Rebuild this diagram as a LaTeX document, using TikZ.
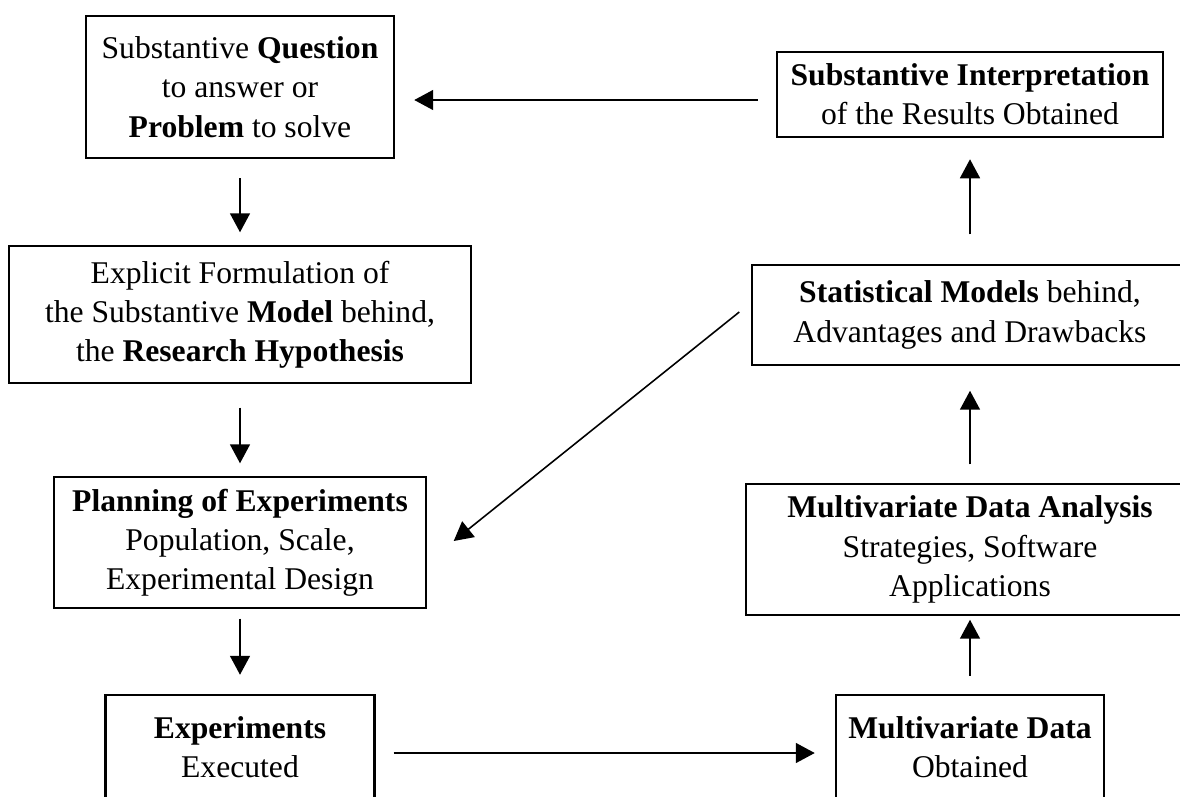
\documentclass[tikz,border=0pt]{standalone}
\usepackage{fontspec}
\setmainfont{Liberation Serif}
\usepackage{tikz}
\usetikzlibrary{arrows.meta}

\tikzset{
  box/.style={draw, line width=0.85pt, inner sep=0pt, align=center,
    font=\fontsize{18}{22.3}\selectfont},
  thickbox/.style={box, line width=1.45pt},
  flow/.style={line width=0.9pt, -{Triangle[length=3.8mm,width=4mm]}}
}

\begin{document}
\begin{tikzpicture}[x=0.02cm, y=-0.02cm]
\useasboundingbox (0,0) rectangle (1180,796);
\clip (0,0) rectangle (1180,796);

\draw (240,87) node[thickbox, minimum width=6.16cm, minimum height=2.84cm] (question)
  {Substantive \textbf{Question}\\ to answer or\\ \textbf{Problem} to solve} ;

\draw (970,94.5) node[thickbox, minimum width=7.72cm, minimum height=1.70cm] (interp)
  {\textbf{Substantive Interpretation}\\ of the Results Obtained} ;
\draw[flow, shorten <=0.36cm, shorten >=0.38cm] ([shift={(0,5.5)}]interp.west) to ([shift={(0,5.5)}]interp.west -| question.east) ;

\draw (240,314.5) node[box, minimum width=9.24cm, minimum height=2.74cm] (formul)
  {Explicit Formulation of\\ the Substantive \textbf{Model} behind,\\ the \textbf{Research Hypothesis}} ;
\draw[flow, shorten <=0.38cm, shorten >=0.26cm] (question.south) to (formul.north) ;

\draw (970,315) node[box, minimum width=8.72cm, minimum height=2.00cm] (stat)
  {\textbf{Statistical Models} behind,\\ Advantages and Drawbacks} ;
\draw[flow, shorten <=0.6cm, shorten >=0.42cm] (stat.north) to (interp.south) ;

\draw (240,542.5) node[box, minimum width=7.44cm, minimum height=2.62cm] (plan)
  {\textbf{Planning of Experiments}\\ Population, Scale,\\ Experimental Design} ;
\draw[flow, shorten <=0.48cm, shorten >=0.26cm] (formul.south) to (plan.north) ;
\draw[flow] ([shift={(-12,-3)}]stat.west) to ([shift={(27,-1.5)}]plan.east) ;

\draw (970,549.5) node[box, minimum width=8.96cm, minimum height=2.62cm] (analysis)
  {\textbf{Multivariate Data Analysis}\\ Strategies, Software\\ Applications} ;
\draw[flow, shorten <=0.38cm, shorten >=0.5cm] (analysis.north) to (stat.south) ;

\draw (240,747.5) node[thickbox, minimum width=5.38cm, minimum height=2.10cm] (exper)
  {\textbf{Experiments}\\ Executed} ;
\draw[flow, shorten <=0.2cm, shorten >=0.38cm] (plan.south) to (exper.north) ;

\draw (970,747.5) node[thickbox, minimum width=5.36cm, minimum height=2.10cm] (data)
  {\textbf{Multivariate Data}\\ Obtained} ;
\draw[flow, shorten <=0.36cm, shorten >=0.4cm] ([shift={(0,5.5)}]exper.east) to ([shift={(0,5.5)}]data.west) ;
\draw[flow, shorten <=0.36cm, shorten >=0.08cm] (data.north) to (analysis.south) ;

\end{tikzpicture}
\end{document}
